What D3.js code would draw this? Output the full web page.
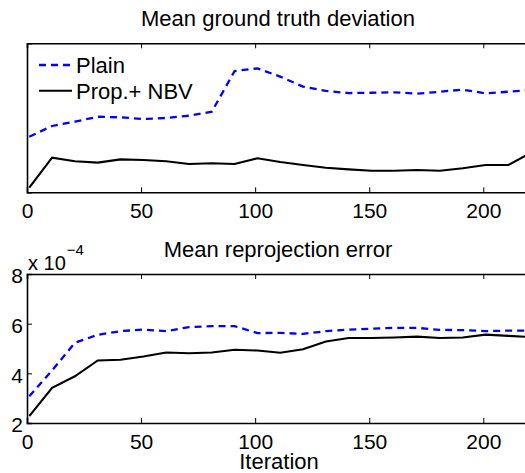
<!DOCTYPE html>
<html><head><meta charset="utf-8">
<script src="https://cdn.jsdelivr.net/npm/d3@7"></script>
<style>
html,body{margin:0;padding:0;background:#fff;overflow:hidden}
text{font-family:"Liberation Sans",Arial,Helvetica,sans-serif;fill:#000}
</style></head><body>
<script>
const iterations = [1,11,21,31,41,51,61,71,81,91,101,111,121,131,141,151,161,171,181,191,201,211,221];
const gtPlain = [3.73,4.45,4.74,5.07,5.03,4.92,4.99,5.14,5.41,8.14,8.32,7.76,7.09,6.80,6.66,6.68,6.71,6.62,6.75,6.89,6.64,6.75,6.87];
const gtProp  = [0.31,2.32,2.08,1.99,2.21,2.17,2.08,1.90,1.95,1.90,2.28,2.03,1.83,1.65,1.54,1.45,1.45,1.50,1.45,1.61,1.83,1.83,2.66];
const rpPlain = [3.08,4.12,5.23,5.55,5.70,5.76,5.70,5.86,5.90,5.90,5.62,5.63,5.59,5.70,5.76,5.80,5.83,5.83,5.75,5.74,5.70,5.72,5.72];
const rpProp  = [2.28,3.42,3.88,4.52,4.55,4.68,4.84,4.81,4.84,4.95,4.92,4.83,4.97,5.28,5.42,5.42,5.44,5.48,5.42,5.44,5.56,5.51,5.46];
const xTicks = [0,50,100,150,200];
const rpYTicks = [2,4,6,8];
const seriesNames = ["Plain","Prop.+ NBV"];
const titles = ["Mean ground truth deviation","Mean reprojection error"];
const xLabel = "Iteration";

const W=525,H=473;
const svg=d3.select("body").append("svg").attr("width",W).attr("height",H);
const x=d3.scaleLinear().domain([0,250]).range([27,27+250*2.2815]);

function panel(top,bottom,yDomain,plain,prop,yTicks,title,titleY){
  const y=d3.scaleLinear().domain(yDomain).range([bottom,top]);
  const g=svg.append("g");
  const line=(vals)=>d3.line().x((d,i)=>x(iterations[i])).y(d=>y(d))(vals);
  g.append("path").attr("d",line(plain)).attr("fill","none").attr("stroke","#0000ff")
    .attr("stroke-width",2.3).attr("stroke-dasharray","7,5");
  g.append("path").attr("d",line(prop)).attr("fill","none").attr("stroke","#000")
    .attr("stroke-width",2.1);
  const xb=g.append("g").attr("transform",`translate(0,${bottom})`)
    .call(d3.axisBottom(x).tickValues(xTicks).tickSize(-5).tickPadding(11).tickFormat(d3.format("d")));
  const xt=g.append("g").attr("transform",`translate(0,${top})`)
    .call(d3.axisTop(x).tickValues(xTicks).tickSize(-5).tickFormat(""));
  const ya=g.append("g").attr("transform",`translate(27,0)`)
    .call(d3.axisLeft(y).tickValues(yTicks).tickSize(-5).tickPadding(4).tickFormat(d3.format("d")));
  [xb,xt,ya].forEach(a=>{
    a.select(".domain").attr("stroke","#000").attr("stroke-width",1.6);
    a.selectAll(".tick line").attr("stroke","#000").attr("stroke-width",1);
    a.selectAll(".tick text").style("font-size","21px").attr("fill","#000");
  });
  xb.selectAll(".tick text").attr("dy","0.71em");
  ya.selectAll(".tick text").attr("dy","0.42em");
  g.append("text").attr("x",278).attr("y",titleY).attr("text-anchor","middle")
    .style("font-size","22px").text(title);
  return {y,g};
}

panel(43.3,192.3,[0,10],gtPlain,gtProp,[],titles[0],26);
panel(274,423,[2,8],rpPlain,rpProp,rpYTicks,titles[1],257);

// exponent label
const ex=svg.append("text").attr("x",28).attr("y",270).style("font-size","20px");
ex.append("tspan").text("x 10");
ex.append("tspan").attr("dy",-15).attr("dx",1).style("font-size","15px").text("\u22124");

// legend (top panel)
const lg=svg.append("g");
seriesNames.forEach((n,i)=>{
  const ly=65+i*25.7;
  lg.append("line").attr("x1",39).attr("x2",72).attr("y1",ly).attr("y2",ly)
    .attr("stroke",i===0?"#0000ff":"#000").attr("stroke-width",i===0?2.3:2.1)
    .attr("stroke-dasharray",i===0?"7,5":null);
  lg.append("text").attr("x",76).attr("y",ly+8).style("font-size","22px").text(n);
});

svg.append("text").attr("x",279).attr("y",469).attr("text-anchor","middle")
  .style("font-size","22px").text(xLabel);
</script>
</body></html>
